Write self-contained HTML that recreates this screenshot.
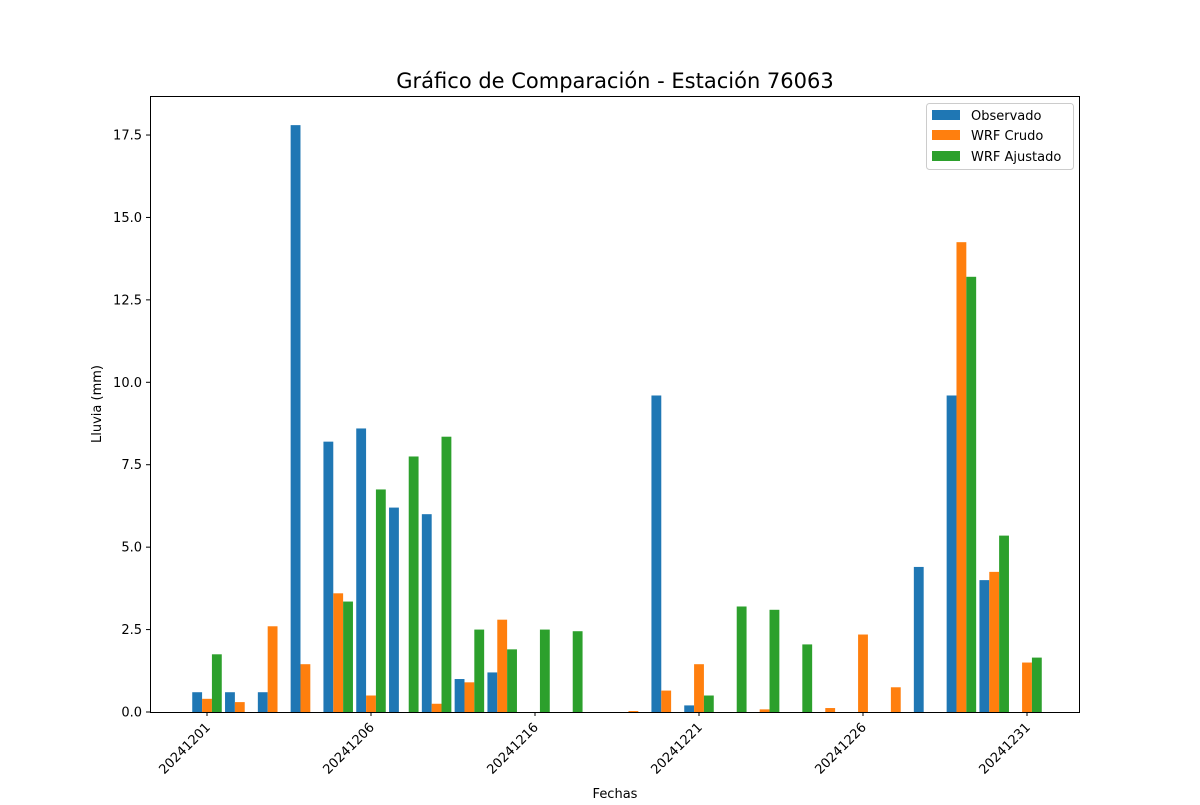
<!DOCTYPE html>
<html><head><meta charset="utf-8"><style>
body{margin:0;background:#fff;font-family:"Liberation Sans","DejaVu Sans",sans-serif}
</style></head><body>
<svg id="chart" width="1200" height="800" xmlns="http://www.w3.org/2000/svg" font-family="'DejaVu Sans','Liberation Sans',sans-serif">
<rect width="1200" height="800" fill="#fff"/>
<text x="615" y="88" font-size="21" text-anchor="middle">Gráfico de Comparación - Estación 76063</text>
<g id="plot"></g>
<rect x="150.5" y="96.5" width="929" height="616" fill="none" stroke="#000" stroke-width="1"/>
<text x="615" y="798" font-size="13" text-anchor="middle">Fechas</text>
<text transform="translate(101,404) rotate(-90)" font-size="13" text-anchor="middle">Lluvia (mm)</text>
<g>
<rect x="926.5" y="103.5" width="147" height="66" rx="3" fill="#fff" fill-opacity="0.8" stroke="#ccc"/>
<rect x="932" y="110" width="28" height="10" fill="#1f77b4"/><text x="971" y="120" font-size="13">Observado</text>
<rect x="932" y="130" width="28" height="10" fill="#ff7f0e"/><text x="971" y="140" font-size="13">WRF Crudo</text>
<rect x="932" y="151" width="28" height="10" fill="#2ca02c"/><text x="971" y="161" font-size="13">WRF Ajustado</text>
</g>
</svg>
<script>
const tickIdx=[0,5,10,15,20,25];
const tickLabels=["20241201","20241206","20241216","20241221","20241226","20241231"];
const yTicks=[0,2.5,5,7.5,10,12.5,15,17.5];
const observado=[0.6,0.6,0.6,17.8,8.2,8.6,6.2,6.0,1.0,1.2,0,0,0,0,9.6,0.2,0,0,0,0,0,0,4.4,9.6,4.0,0];
const wrfCrudo=[0.4,0.3,2.6,1.45,3.6,0.5,0,0.25,0.9,2.8,0,0,0,0.03,0.65,1.45,0,0.08,0,0.12,2.35,0.75,0,14.25,4.25,1.5];
const wrfAjustado=[1.75,0,0,0,3.35,6.75,7.75,8.35,2.5,1.9,2.5,2.45,0,0,0,0.5,3.2,3.1,2.05,0,0,0,0,13.2,5.35,1.65];
const NS="http://www.w3.org/2000/svg";
const g=document.getElementById('plot');
const xs=i=>207+32.8*i;
const ys=v=>712-v*32.97;
const bw=9.84;
function el(t,a){const e=document.createElementNS(NS,t);for(const k in a)e.setAttribute(k,a[k]);g.appendChild(e);return e;}
const series=[[observado,'#1f77b4',-1,'obs'],[wrfCrudo,'#ff7f0e',0,'crudo'],[wrfAjustado,'#2ca02c',1,'ajustado']];
series.forEach(([arr,c,off,n])=>arr.forEach((v,i)=>{
 if(v<=0)return;
 const r=el('rect',{x:xs(i)+off*bw-bw/2,y:ys(v),width:bw,height:712-ys(v),fill:c});
 
 
}));
yTicks.forEach(t=>{
 const l=el('line',{x1:146,x2:150,y1:ys(t),y2:ys(t),stroke:'#000'});
 
 
 const tx=el('text',{x:142,y:ys(t)+4.5,'font-size':13,'text-anchor':'end'});
 tx.textContent=t.toFixed(1);
 
 
});
tickIdx.forEach((ix,k)=>{
 const x=xs(ix);
 const l=el('line',{x1:x,x2:x,y1:712,y2:716,stroke:'#000'});
 
 
 const tx=el('text',{transform:`translate(${x+4},${728}) rotate(-45)`,'font-size':13,'text-anchor':'end'});
 tx.textContent=tickLabels[k];
 
 
});
</script>
</body></html>
